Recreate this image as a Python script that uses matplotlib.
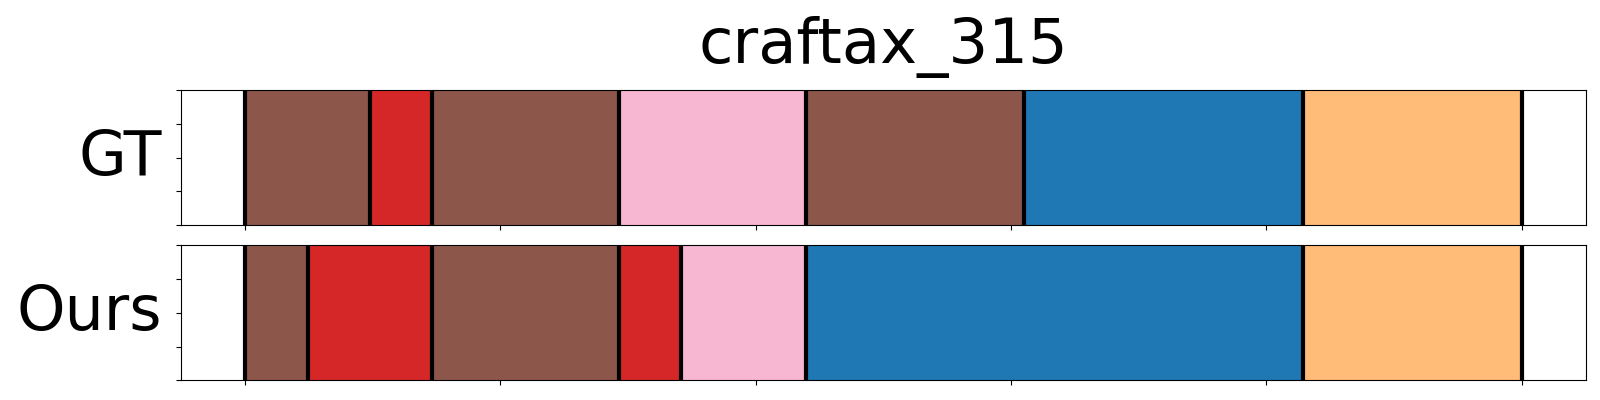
import matplotlib
matplotlib.use("Agg")
import matplotlib.pyplot as plt

title = "craftax_315"
n_frames = 500

# segment edges (frame index) and action colours for each row
gt_edges = [0, 49, 73, 146.5, 219.5, 305, 414.5, 500]
gt_colors = ["#8c564b", "#d62728", "#8c564b", "#f7b6d2",
             "#8c564b", "#1f77b4", "#ffbb78"]

ours_edges = [0, 24.5, 73, 146.5, 170.7, 219.5, 414.5, 500]
ours_colors = ["#8c564b", "#d62728", "#8c564b", "#d62728",
               "#f7b6d2", "#1f77b4", "#ffbb78"]

xticks = [0, 100, 200, 300, 400, 500]
yticks = [0, 0.25, 0.5, 0.75, 1.0]

rows = [("GT", gt_edges, gt_colors),
        ("Ours", ours_edges, ours_colors)]


def plot_row(ax, label, edges, colors):

    for start, end, c in zip(edges[:-1], edges[1:], colors):
        ax.axvspan(start, end, ymin = 0, ymax = 1,
                   color = c, lw = 0)

    for e in edges:
        ax.axvline(e, color = "k", lw = 3)

    ax.set_xlim(-0.05 * n_frames, 1.05 * n_frames)
    ax.set_ylim(0, 1)
    ax.set_xticks(xticks)
    ax.set_xticklabels([])
    ax.set_yticks(yticks)
    ax.set_yticklabels([])

    ax.set_ylabel(label, fontsize = 44.5, rotation = 0,
                  ha = "right", va = "center")
    ax.yaxis.set_label_coords(-0.0135, 0.5)


fig = plt.figure(figsize = (16, 4), dpi = 100)

ax_top = fig.add_axes([0.1133, 0.4375, 0.8777, 0.337])
ax_bot = fig.add_axes([0.1133, 0.049, 0.8777, 0.3375])

for ax, (label, edges, colors) in zip((ax_top, ax_bot), rows):
    plot_row(ax, label, edges, colors)

fig.text(883 / 1600, 1 - 63 / 400, title, fontsize = 45,
         ha = "center", va = "baseline")

fig.savefig("out.png", dpi = 100)
